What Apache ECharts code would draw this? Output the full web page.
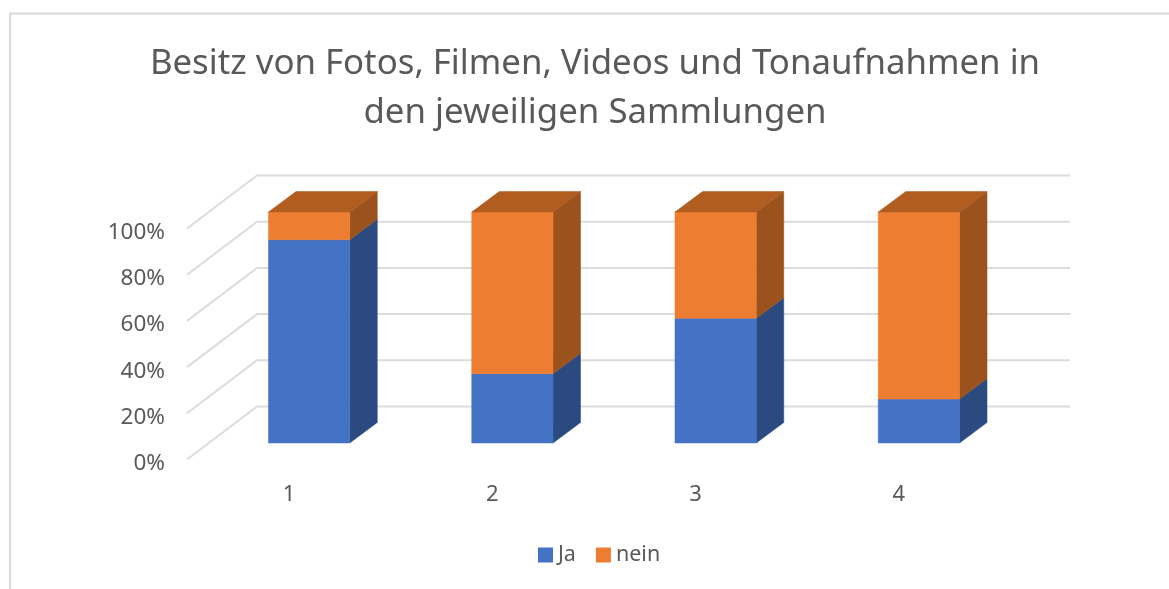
<!DOCTYPE html>
<html>
<head>
<meta charset="utf-8">
<style>html,body{margin:0;padding:0;background:#fff}#c{width:1169px;height:589px}</style>
<script src="https://cdn.jsdelivr.net/npm/echarts@6/dist/echarts.min.js"></script>
</head>
<body>
<div id="c"></div>
<script>
const titleLines = ['Besitz von Fotos, Filmen, Videos und Tonaufnahmen in', 'den jeweiligen Sammlungen'];
const categories = ['1', '2', '3', '4'];
const yTicks = [0, 20, 40, 60, 80, 100];
const jaValues = [88, 30, 54, 19];
const neinValues = [12, 70, 46, 81];

const FONT = '"Noto Sans", sans-serif';
const TEXT = '#595959';
const WALL = [70, -53];
const BAR_SHIFT = [20.5, -16.5];
const DEPTH = [27.5, -20.5];
const BAR_RATIO = 0.4;

function poly(points, fill) {
  return { type: 'polygon', shape: { points }, style: { fill, stroke: fill, lineWidth: 0.5 } };
}

function barRenderer(front, side, top) {
  return function (params, api) {
    const cx = api.coord([api.value(0), 0])[0] + BAR_SHIFT[0];
    const w = api.size([1, 0])[0] * BAR_RATIO;
    const y0 = api.coord([api.value(0), api.value(1)])[1] + BAR_SHIFT[1];
    const y1 = api.coord([api.value(0), api.value(2)])[1] + BAR_SHIFT[1];
    const l = cx - w / 2, r = cx + w / 2;
    const dx = DEPTH[0], dy = DEPTH[1];
    const children = [
      poly([[r, y0], [r + dx, y0 + dy], [r + dx, y1 + dy], [r, y1]], side),
      poly([[l, y0], [r, y0], [r, y1], [l, y1]], front)
    ];
    if (api.value(2) >= 100) {
      children.push(poly([[l, y1], [r, y1], [r + dx, y1 + dy], [l + dx, y1 + dy]], top));
    }
    return { type: 'group', children };
  };
}

function wallRenderer(params, api) {
  const p = api.coord([0, api.value(0)]);
  const cs = params.coordSys;
  const x0 = cs.x, y = p[1];
  const bx = x0 + WALL[0], by = y + WALL[1];
  return {
    type: 'polyline',
    shape: { points: [[x0, y], [bx, by], [x0 + cs.width + WALL[0], by]] },
    style: { fill: 'none', stroke: '#dcdcdc', lineWidth: 2 }
  };
}

let acc = jaValues.map(() => 0);
function stack(values) {
  const out = values.map((v, i) => [i, acc[i], acc[i] + v]);
  acc = acc.map((a, i) => a + values[i]);
  return out;
}
const jaData = stack(jaValues);
const neinData = stack(neinValues);

const chart = echarts.init(document.getElementById('c'), null, { renderer: 'canvas' });
chart.setOption({
  animation: false,
  backgroundColor: '#fff',
  textStyle: { fontFamily: FONT },
  title: {
    text: titleLines.join('\n'),
    left: 590, top: 35, textAlign: 'center',
    textStyle: { fontFamily: FONT, fontSize: 34.8, fontWeight: 'normal', color: TEXT, lineHeight: 49 }
  },
  legend: {
    data: ['Ja', 'nein'],
    left: 533, top: 539,
    icon: 'rect', itemWidth: 15, itemHeight: 15, itemGap: 20, itemStyle: { borderWidth: 0 },
    selectedMode: false,
    textStyle: { fontFamily: FONT, fontSize: 21.5, color: TEXT }
  },
  grid: { left: 187, top: 228.5, width: 813, height: 231 },
  xAxis: {
    type: 'category', data: categories,
    axisLine: { show: false }, axisTick: { show: false }, splitLine: { show: false },
    axisLabel: { fontFamily: FONT, fontSize: 22, color: TEXT, margin: 24, padding: [0, 0, 0, 1] }
  },
  yAxis: {
    type: 'value', min: 0, max: 100, interval: 20,
    axisLine: { show: false }, axisTick: { show: false }, splitLine: { show: false },
    axisLabel: { fontFamily: FONT, fontSize: 22.5, color: TEXT, margin: 22, verticalAlign: 'top', lineHeight: 8, formatter: '{value}%' }
  },
  graphic: [{
    type: 'polyline', silent: true, z: -1,
    shape: { points: [[10, 589], [10, 13.5], [1169, 13.5]] },
    style: { fill: 'none', stroke: '#d9d9d9', lineWidth: 2 }
  }],
  series: [
    { type: 'custom', name: 'walls', silent: true, z: 1, renderItem: wallRenderer,
      data: yTicks.map(v => [v]), encode: { y: 0 } },
    { type: 'custom', name: 'Ja', z: 2, itemStyle: { color: '#4472C4' },
      renderItem: barRenderer('#4472C4', '#2A4A80', '#33568F'),
      data: jaData, encode: { x: 0, y: [1, 2] } },
    { type: 'custom', name: 'nein', z: 3, itemStyle: { color: '#ED7D31' },
      renderItem: barRenderer('#ED7D31', '#9B521C', '#B25D20'),
      data: neinData, encode: { x: 0, y: [1, 2] } }
  ]
});
</script>
</body>
</html>
